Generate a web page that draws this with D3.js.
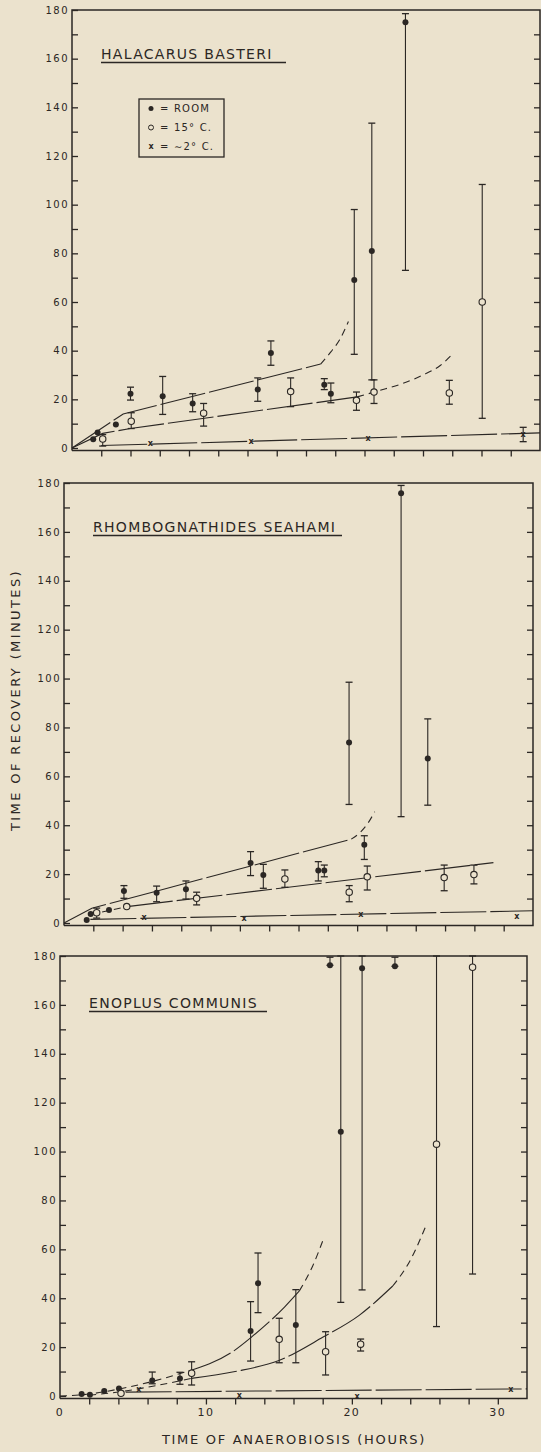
<!DOCTYPE html>
<head>
  <meta charset="utf-8">
  <title>anaerobiosis recovery</title>
  <script src="https://d3js.org/d3.v7.min.js"></script>
  <style>
    body { margin: 0; background: #ebe2cd; }
    text { font-family: "DejaVu Sans", sans-serif; fill: #2b2724; }
  </style>
</head>
<body>
<script>
// hours axis and minutes axis
var hourTicks = d3.range(2, 31, 2);
var hourLabels = [0, 10, 20, 30];
var minuteLabels = d3.range(0, 181, 20);
var minuteMinor = d3.range(10, 180, 20);
var minuteRight = d3.range(10, 180, 10);

// [hours, minutes, low, high]  (low/high = error bar, may be absent)
var halRoom = [[1.45, 3.6], [1.75, 6.4], [3.0, 9.7], [4.0, 22.3, 19.7, 25], [6.2, 21.3, 13.8, 29.4],
  [8.25, 18.3, 14.9, 22.3], [12.7, 24, 19.2, 28.8], [13.6, 39, 34, 44], [17.25, 26, 24, 28.5],
  [17.7, 22.3, 18.6, 26.7], [19.3, 69, 38.5, 98], [20.5, 81, 28, 133.5], [22.8, 175, 73, 178.5]];
var hal15 = [[2.1, 3.7, 0.8, 5.5], [4.05, 11, 8, 14.5], [9.0, 14.3, 9, 18.3], [14.95, 23.2, 17, 28.8],
  [19.45, 19.6, 15.5, 23], [20.65, 23, 18.3, 28], [25.8, 22.6, 18, 27.8], [28.05, 60, 12.2, 108.3]];
var hal2 = [[5.35, 2.2], [12.25, 3.0], [20.25, 4.0], [30.85, 5.6, 2.6, 8.5]];
var halRoomFit = [[0, 0], [3.5, 14], [17, 34.5]];
var halRoomExt = [[17, 34.5], [17.7, 39.5], [18.3, 44.5], [18.9, 52]];
var hal15Fit = [[0, 0], [2.1, 6], [4, 8], [19.5, 21]];
var hal15Ext = [[19.5, 21], [21, 23.6], [22.5, 26.3], [24, 30], [25.2, 34], [26, 38.5]];
var hal2Fit = [[2, 1], [32, 6.2]];

var rhoRoom = [[1.55, 1.2], [1.82, 3.7], [3.07, 5.3], [4.09, 13.1, 10.1, 15.3], [6.32, 12.4, 8.7, 15.1],
  [8.32, 13.8, 9.8, 17.2], [12.73, 24.5, 19.4, 29.2], [13.6, 19.6, 14.2, 24], [17.35, 21.5, 17.2, 25.1],
  [17.76, 21.5, 18.9, 23.7], [19.45, 73.8, 48.5, 98.5], [20.49, 32, 26, 35.7], [23.0, 175.8, 43.5, 179],
  [24.82, 67.3, 48.2, 83.5]];
var rho15 = [[2.23, 4.2, 2, 6.1], [4.28, 6.7], [9.05, 10.1, 7.4, 12.6], [15.07, 18, 14.6, 21.7],
  [19.46, 12.6, 8.7, 15.3], [20.69, 18.9, 13.5, 23.3], [25.94, 18.6, 13.2, 23.7], [27.97, 19.8, 16, 23.7]];
var rho2 = [[5.46, 2.6], [12.28, 2.2], [20.26, 3.6], [30.9, 2.7]];
var rhoRoomFit = [[0, 0], [1.9, 6], [19.6, 34.3]];
var rhoRoomExt = [[19.6, 34.3], [20.2, 37], [20.7, 40.5], [21.2, 45.5]];
var rho15Ext0 = [[1.8, 3.5], [4.3, 6.7]];
var rho15Fit = [[4.3, 6.7], [29.3, 24.7]];
var rho2Fit = [[1.8, 1.5], [32, 5]];

var enoRoom = [[1.48, 0.8], [2.05, 0.5], [3.03, 2.0], [4.04, 3.1], [6.32, 6.3, 5.0, 9.8],
  [8.22, 7.2, 4.8, 9.7], [13.06, 26.6, 14.3, 38.6], [13.57, 46.1, 34.1, 58.5], [16.16, 29, 13.6, 43.5],
  [18.5, 176.2, 176.2, 179.5], [19.24, 108.1, 38.3, 180], [20.7, 175, 43.4, 180], [22.95, 175.8, 175.8, 179.5]];
var eno15 = [[4.18, 1.1], [9.02, 9.3, 4.5, 14], [15.02, 23.2, 13.6, 31.8], [18.2, 18.1, 8.6, 26.3],
  [20.6, 21.2, 18.4, 23.3], [25.8, 103, 28.4, 180], [28.27, 175.4, 49.9, 180]];
var eno2 = [[5.41, 2.7], [12.28, 0.6], [20.36, 0.2], [30.9, 2.7]];
var enoRoomExt0 = [[0, 0], [2, 0.8], [4, 2.8], [6.3, 5.9], [8.8, 10.2]];
var enoRoomFit = [[8.8, 10.2], [11.8, 18], [13.1, 24], [15.4, 36.5], [16.4, 43]];
var enoRoomExt = [[16.4, 43], [17.3, 53], [18.1, 65]];
var eno15Ext0 = [[2, 0.3], [4.2, 1.8], [6, 3.6], [9, 7.2]];
var eno15Fit = [[9, 7.2], [12, 10], [15, 14.5], [18, 24], [20.5, 33], [22.8, 45]];
var eno15Ext = [[22.8, 45], [24, 55.5], [25.1, 70]];
var eno2Fit = [[4.5, 1.6], [32, 2.9]];

var ink = "#2b2724";
var svg = d3.select("body").append("svg").attr("width", 541).attr("height", 1452);

var panels = [
  { title: "HALACARUS BASTERI", left: 72, right: 540, top: 10, zero: 448, titleY: 59, titleW: 185,
    room: halRoom, c15: hal15, c2: hal2, straight: true,
    solid: [halRoomFit, hal15Fit, hal2Fit], dashed: [halRoomExt, hal15Ext], legend: true },
  { title: "RHOMBOGNATHIDES SEAHAMI", left: 64, right: 533, top: 483, zero: 923, titleY: 532, titleW: 249,
    room: rhoRoom, c15: rho15, c2: rho2, straight: true,
    solid: [rhoRoomFit, rho15Fit, rho2Fit], dashed: [rhoRoomExt, rho15Ext0] },
  { title: "ENOPLUS COMMUNIS", left: 60, right: 527, top: 956, zero: 1396, titleY: 1008, titleW: 178,
    room: enoRoom, c15: eno15, c2: eno2,
    solid: [enoRoomFit, eno15Fit, eno2Fit], dashed: [enoRoomExt0, enoRoomExt, eno15Ext0, eno15Ext], labels: true }
];

panels.forEach(function(p) {
  var x = d3.scaleLinear().domain([0, 32]).range([p.left, p.right]);
  var y = d3.scaleLinear().domain([0, 180]).range([p.zero, p.top]);
  var base = p.zero + 2.5;
  var g = svg.append("g");

  // frame
  g.append("path")
    .attr("d", "M" + p.left + "," + base + "V" + p.top + "H" + p.right + "V" + base + "H" + p.left)
    .attr("fill", "none").attr("stroke", ink).attr("stroke-width", 1.5);

  // left axis, inward ticks with labels
  var la = g.append("g").attr("transform", "translate(" + p.left + ",0)")
    .call(d3.axisLeft(y).tickValues(minuteLabels).tickSize(-6).tickPadding(4));
  var la2 = g.append("g").attr("transform", "translate(" + p.left + ",0)")
    .call(d3.axisLeft(y).tickValues(minuteMinor).tickSize(-6).tickFormat(""));
  // right axis
  var ra = g.append("g").attr("transform", "translate(" + p.right + ",0)")
    .call(d3.axisRight(y).tickValues(minuteRight).tickSize(-6).tickFormat(""));
  // bottom axis
  var ba = g.append("g").attr("transform", "translate(0," + base + ")")
    .call(d3.axisBottom(x).tickValues(hourTicks).tickSize(6).tickFormat(""));
  [la, la2, ra, ba].forEach(function(a) {
    a.select(".domain").remove();
    a.selectAll("line").attr("stroke", ink).attr("stroke-width", 1.3);
  });
  la.selectAll("text").attr("font-size", 10).attr("letter-spacing", 1.5).attr("fill", ink).attr("dx", 1);

  if (p.labels) {
    g.selectAll(".hl").data(hourLabels).enter().append("text")
      .attr("x", function(d) { return x(d); }).attr("y", base + 17)
      .attr("text-anchor", "middle").attr("font-size", 11).attr("letter-spacing", 1.5)
      .text(function(d) { return d; });
  }

  // title
  g.append("text").attr("x", x(0) + 29).attr("y", p.titleY)
    .attr("font-size", 14).attr("letter-spacing", 1.3).text(p.title);
  g.append("line").attr("x1", x(0) + 29).attr("x2", x(0) + 29 + p.titleW)
    .attr("y1", p.titleY + 3.5).attr("y2", p.titleY + 3.5)
    .attr("stroke", ink).attr("stroke-width", 1.5);

  // fitted lines: straight segments in the upper panels, smooth curves elsewhere
  var px = function(d) { return x(d[0]); }, py = function(d) { return y(d[1]); };
  var line = d3.line().x(px).y(py).curve(p.straight ? d3.curveLinear : d3.curveMonotoneX);
  var curve = d3.line().x(px).y(py).curve(d3.curveMonotoneX);
  p.solid.forEach(function(s) {
    g.append("path").attr("d", line(s)).attr("fill", "none")
      .attr("stroke", ink).attr("stroke-width", 1.1).attr("stroke-dasharray", "46,4");
  });
  p.dashed.forEach(function(s) {
    g.append("path").attr("d", curve(s)).attr("fill", "none")
      .attr("stroke", ink).attr("stroke-width", 1.1).attr("stroke-dasharray", "7,5");
  });

  // error bars
  var bars = p.room.concat(p.c15, p.c2).filter(function(d) { return d.length > 2; });
  var eb = g.selectAll(".eb").data(bars).enter().append("g");
  eb.append("line")
    .attr("x1", px).attr("x2", px)
    .attr("y1", function(d) { return y(d[2]); }).attr("y2", function(d) { return y(d[3]); })
    .attr("stroke", ink).attr("stroke-width", 1.1);
  [2, 3].forEach(function(k) {
    eb.append("line")
      .attr("x1", function(d) { return x(d[0]) - 3.5; }).attr("x2", function(d) { return x(d[0]) + 3.5; })
      .attr("y1", function(d) { return y(d[k]); }).attr("y2", function(d) { return y(d[k]); })
      .attr("stroke", ink).attr("stroke-width", 1.3);
  });

  // points
  g.selectAll(".room").data(p.room).enter().append("circle")
    .attr("cx", px).attr("cy", py).attr("r", 3).attr("fill", ink);
  g.selectAll(".c15").data(p.c15).enter().append("circle")
    .attr("cx", px).attr("cy", py)
    .attr("r", 3.2).attr("fill", "#ebe2cd").attr("stroke", ink).attr("stroke-width", 1.1);
  g.selectAll(".c2").data(p.c2).enter().append("text")
    .attr("x", px).attr("y", function(d) { return y(d[1]) + 3; })
    .attr("text-anchor", "middle").attr("font-size", 8).attr("font-weight", "bold").text("x");

  if (p.legend) {
    var lg = g.append("g").attr("transform", "translate(139,99)");
    lg.append("rect").attr("width", 85).attr("height", 58)
      .attr("fill", "none").attr("stroke", ink).attr("stroke-width", 1.3);
    lg.append("circle").attr("cx", 12).attr("cy", 9.5).attr("r", 2.5).attr("fill", ink);
    lg.append("circle").attr("cx", 12).attr("cy", 28.5).attr("r", 2.5)
      .attr("fill", "none").attr("stroke", ink).attr("stroke-width", 1);
    lg.append("text").attr("x", 12).attr("y", 50).attr("text-anchor", "middle")
      .attr("font-size", 8).attr("font-weight", "bold").text("x");
    var rows = ["= ROOM", "= 15° C.", "= \u223C2° C."];
    lg.selectAll(".lt").data(rows).enter().append("text")
      .attr("x", 21).attr("y", function(d, i) { return 13 + i * 19; })
      .attr("font-size", 10).attr("letter-spacing", 1.2)
      .text(function(d) { return d; });
  }
});

// axis titles
svg.append("text").attr("x", 294).attr("y", 1444).attr("text-anchor", "middle")
  .attr("font-size", 13).attr("letter-spacing", 1.7).text("TIME OF ANAEROBIOSIS (HOURS)");
svg.append("text").attr("transform", "translate(20,700) rotate(-90)").attr("text-anchor", "middle")
  .attr("font-size", 13).attr("letter-spacing", 2.4).text("TIME OF RECOVERY (MINUTES)");
</script>
</body>
